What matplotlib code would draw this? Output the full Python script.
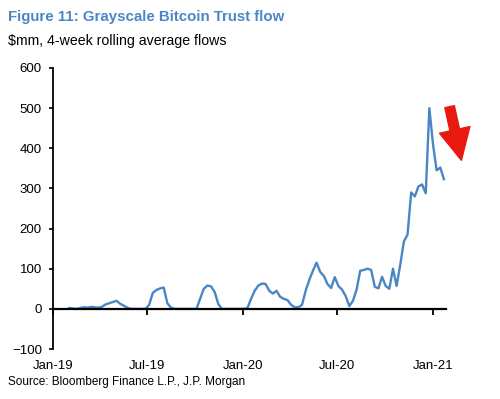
import matplotlib
matplotlib.use("Agg")
import matplotlib.pyplot as plt
import matplotlib.dates as mdates
from matplotlib.patches import FancyArrowPatch
import pandas as pd

plt.rcParams["font.family"] = ["Liberation Sans", "DejaVu Sans"]

# 4-week rolling average GBTC flows, $mm, weekly points
start_date = "2019-02-01"
flows = [
    2, 1, 0, 2, 4, 3, 5, 4, 3,
    5, 11, 14, 17, 20, 13, 8, 3,
    0, 0, 0, 0, 0,
    10, 40, 47, 51, 53, 14, 3,
    0, 0, 0, 0, 0, 0, 0,
    25, 50, 58, 56, 42, 12, 0,
    0, 0, 0, 0, 0, 0, 2,
    25, 45, 58, 63, 62, 45, 38, 45, 30, 25, 22, 10, 4, 4, 10,
    45, 72, 95, 115, 92, 82, 62, 52, 79, 57, 48, 32, 7, 20, 48,
    95, 97, 100, 97, 55, 51, 80, 57, 50, 100, 57, 110, 168, 185,
    290, 280, 305, 310, 288, 500, 410, 345, 352, 323,
]
dates = pd.date_range(start_date, periods=len(flows), freq="7D")
tick_dates = pd.to_datetime(["2019-01-01", "2019-07-01", "2020-01-01",
                             "2020-07-01", "2021-01-01"])
y_ticks = [-100, 0, 100, 200, 300, 400, 500, 600]

blue = "#4a86c5"

fig = plt.figure(figsize=(5.0, 3.99), dpi=100)
ax = fig.add_axes([0.106, 0.1253, 0.786, 0.7043])

ax.plot(dates, flows, color=blue, lw=1.7)

ax.set_xlim(pd.Timestamp("2019-01-01"), pd.Timestamp("2021-01-26"))
ax.set_ylim(-100, 600)
ax.set_yticks(y_ticks)
ax.set_xticks(tick_dates)
ax.xaxis.set_major_formatter(mdates.DateFormatter("%b-%y"))

for s in ["top", "right"]:
    ax.spines[s].set_visible(False)
ax.spines["bottom"].set_position(("data", 0))
ax.spines["bottom"].set_linewidth(1.6)
ax.spines["left"].set_linewidth(1.3)

ax.tick_params(axis="x", direction="out", length=4, width=1.3, pad=33,
               labelsize=9.5)
ax.tick_params(axis="y", direction="out", length=3, width=1.2, pad=5,
               labelsize=9.5)

fig.text(0.016, 0.957, "Figure 11: Grayscale Bitcoin Trust flow",
         color=blue, fontsize=10.8, fontweight="bold", va="center")
fig.text(0.016, 0.897, "$mm, 4-week rolling average flows",
         color="black", fontsize=10.2, va="center")
fig.text(0.016, 0.042, "Source: Bloomberg Finance L.P., J.P. Morgan",
         color="black", fontsize=8.5, va="center")

arrow = FancyArrowPatch((449, 399 - 104), (462, 399 - 163),
                        transform=None, color="#e8190f",
                        arrowstyle="simple,head_width=1.6,head_length=1.6,tail_width=0.5",
                        mutation_scale=14)
fig.patches.append(arrow)

fig.savefig("out.png", dpi=100)
